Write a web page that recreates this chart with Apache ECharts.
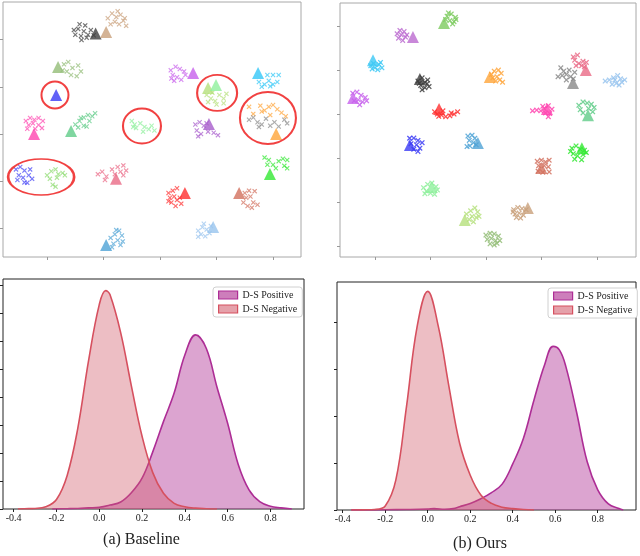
<!DOCTYPE html>
<html><head><meta charset="utf-8">
<script src="https://cdn.jsdelivr.net/npm/echarts@6/dist/echarts.min.js"></script>
<style>html,body{margin:0;padding:0;background:#fff}#c{width:640px;height:556px}</style>
</head><body><div id="c"></div>
<script>
// ---------------- DATA ----------------
// t-SNE tick values (labels hidden in the figure)
const tsneTicksX = [-40, -20, 0, 20, 40];
const baseTicksY = [-40, -20, 0, 20, 40];
const oursTicksY = [-60, -40, -20, 0, 20, 40];

// Baseline t-SNE: "x" marks per class, and the class anchor (triangle)
const baselineMarks = [
  [[-30,42],[-29,44.5],[-28,41.5],[-27,43.5],[-26.5,46],[-25.5,42],[-24.5,44],[-28.5,46.5],[-30.5,44],[-26,40.8],[-23.5,41.8],[-27.8,39.8]],
  [[-18.5,49],[-17,51],[-15.5,49.5],[-14,50.5],[-12.5,49],[-16,47.5],[-14.5,46.5],[-12,45.8],[-17.5,46.5],[-13,48],[-15,52]],
  [[-34,29.5],[-32.5,30.5],[-31,28],[-29,29],[-33,26.5],[-31.5,25],[-29.5,24.5],[-28,26.5],[-34.5,27]],
  [],
  [[-47.5,5.5],[-46,6.8],[-44.5,6],[-43,6.8],[-41.5,5.5],[-46.5,3.8],[-45,4.5],[-43,3.8],[-41.8,2.5],[-47,2.2],[-44.2,2.2]],
  [[-30,4],[-28.5,5.5],[-27,7],[-25.5,8],[-24,7.5],[-23,8.8],[-29,2.8],[-27,3.5],[-25,5.5],[-28,6.8],[-26,3.2]],
  [[-10,5.5],[-9,4],[-8.5,2.5],[-7,4.5],[-5.5,3],[-4,2],[-3,3.5],[-2,1.5],[-6,1],[-9.5,3]],
  [[3.8,27],[5.5,28.5],[7,27.5],[8.5,26.5],[4.5,25],[6,24],[7.5,23],[5,22.5],[9,25],[4,23.5]],
  [[16.5,16.5],[18,15],[19.5,14],[21,16.5],[22.5,15],[23.5,17],[17,13.5],[20,12.5],[22.5,13],[18.5,17.5]],
  [],
  [[38,25],[40,25],[42,25],[35,22],[37,21],[38.5,22.5],[40,21],[41.5,22],[36,20],[39,20.2]],
  [[31.5,11.5],[33,8.5],[35.5,12],[37,10],[38.5,11.5],[40,12.3],[41.5,10.5],[43,9],[44.5,7.5],[39,8],[36,9.5]],
  [[31.5,6],[33,7],[34.5,5],[36,4],[37.5,6.5],[39,3.5],[40.5,5],[42,3.2],[44,6],[45,4.5],[35,3]],
  [[12.5,4],[14,5],[15.5,3.5],[13,1.5],[14.5,0],[17,1],[19,0.5],[20.5,-0.5],[16.5,4.5],[13.5,-1]],
  [[-51,-15],[-49.5,-14],[-48,-15.5],[-46,-15],[-50,-17.5],[-48.5,-18.5],[-46.5,-17.5],[-45.3,-19],[-48,-20.5],[-50.5,-19.5],[-47,-20.7]],
  [[-40,-17.5],[-38.5,-15.8],[-37,-15],[-36,-17],[-34.5,-16.5],[-33.7,-17.5],[-39,-19],[-36.5,-18.5],[-38,-21.5],[-37,-22.3]],
  [[-22,-17],[-20.5,-16],[-19,-18],[-17,-15],[-15,-14],[-13,-13.3],[-12,-15.5],[-14,-16],[-16,-17],[-19.5,-19.5],[-13,-17.5]],
  [[3,-25],[4.5,-24],[6,-23],[3.5,-27],[5,-26.5],[7,-27],[4,-29],[5.5,-30.5],[7.5,-29.5],[6,-28],[3,-28.5]],
  [[30,-25],[31.5,-24],[33.5,-24.2],[30.5,-27],[32,-26.5],[29.5,-29],[31,-30.5],[33,-29],[34.5,-30],[32.5,-31.2]],
  [[37,-10],[38.5,-11],[40,-13],[42,-11.5],[43.5,-10.5],[45,-11],[44,-13.5],[41,-14.5],[38,-13],[45,-14.5]],
  [[13.5,-41],[15,-39.5],[16.5,-40.5],[14.5,-42.5],[16,-43.3],[17.5,-42],[15.5,-38],[18,-39],[13.5,-43.5]],
  [[-17.5,-44],[-16,-42.5],[-14.5,-41],[-13.5,-43],[-15,-45],[-16.5,-46.5],[-14,-47],[-13.2,-45.5],[-17,-48],[-15.5,-40.7]]
];
const baselineAnchors = [
  [-22.8,42.6],[-19.1,43.2],[-36.1,28.4],[-36.8,16.5],[-44.6,0],[-31.5,1.3],null,[11.7,25.8],
  [17,19.5],[19.8,20.7],[34.7,25.8],[41.1,0],null,[17.3,4.2],null,null,[-15.6,-19],[8.8,-25],
  [28,-25],[38.9,-16.9],[18.8,-39.4],[-19.1,-47]
];
// highlighted regions (centres) in the baseline plot
const baselineRings = [[-37.2,16.5],[-6.4,3.4],[20.2,17.4],[38.2,6.8],[-42.1,-18.2]];

// Ours t-SNE
const oursMarks = [
  [[-14,44.5],[-12.5,45.5],[-11,44],[-13,42.5],[-11.5,42],[-10.8,43],[-14.5,43],[-12,41],[-13.5,46]],
  [[-32,36.5],[-31,38],[-29.5,37.5],[-28.5,36],[-31.5,34.5],[-30,33.5],[-29,35],[-30.5,36]],
  [[-41.5,22],[-40,21],[-38.5,22.5],[-37.5,21],[-39,20.2],[-41,20.5],[-38,23.5],[-40.5,23]],
  [[-24.5,15],[-23,16.5],[-22,14.5],[-21,15.5],[-23.5,13],[-22,12],[-20.5,12.5],[-23,11],[-24,14],[-21.2,13.8]],
  [[2,18],[3,19.5],[4.5,20],[5.5,18.5],[4,17],[5,15.5],[6,14.5],[3.5,15],[2.5,16.5]],
  [[31.5,26],[33,26.8],[32,24.5],[33.5,23],[35,24],[36.2,23.5],[34.5,22],[32.5,22],[35.5,21.5]],
  [[27,21],[28,19.5],[26,17],[27.5,17.5],[29,18],[30.5,17],[31.5,16],[29,15.5],[32,19],[30,20]],
  [[43,15],[44.5,15.5],[46,16.5],[47.5,17.5],[48.5,16],[50,15.5],[47,14],[45.5,13.5],[49,14.5],[46.5,15.5],[48,13.2]],
  [[-48,9.5],[-46.5,10],[-45,8.5],[-43.5,7.5],[-46,6.5],[-44.5,5.5],[-45.5,4.2],[-47.5,6],[-43,6]],
  [[-18.5,1],[-17.5,0],[-16,-0.5],[-14.5,-1.2],[-13,-0.8],[-11.5,0],[-10.2,1],[-15.5,1.5],[-17,-1],[-12.5,0.5]],
  [[16.8,1.5],[18.3,1.8],[19.8,1.5],[21,2.5],[22.5,3.8],[23.8,2.2],[21.5,0.5],[22.5,-1.2],[20.5,3.5],[23,0.2]],
  [[33.5,4],[35,5.5],[36.5,5],[38,4.5],[39,3],[34,2],[38.5,1],[35,0.5],[37,2.5]],
  [[-27.5,-11],[-26,-10.9],[-24.5,-12],[-23,-13],[-25,-14],[-23.8,-15.5],[-26,-16],[-24.5,-17],[-27,-13.5]],
  [[-6.5,-10],[-5,-9.6],[-4,-11],[-6,-12],[-4.5,-13],[-5.8,-14.5],[-3.5,-14],[-6.8,-14.8]],
  [[31,-15.5],[32.5,-14.5],[34,-16],[35.5,-16.5],[31.5,-18],[33,-19],[35,-18.5],[32,-20.5],[34.5,-20.8],[36.2,-17.5],[30.5,-17]],
  [[18.5,-21.5],[20,-21],[21.5,-21.8],[22.8,-21],[19,-23.5],[21,-23.5],[22.5,-24],[18.8,-26],[20.5,-26.5],[22.8,-26.3]],
  [[-22.5,-33.5],[-21,-32],[-19.5,-31.4],[-18,-33],[-17.5,-34.5],[-21.5,-35],[-20,-36],[-18.5,-36.5],[-22,-36.2]],
  [[-7,-45.5],[-5.5,-44],[-4,-42.7],[-3,-44.5],[-5,-46.5],[-3.5,-47],[-6,-48],[-4.5,-49],[-2.5,-46.5]],
  [[10,-43.5],[11.5,-42.5],[13,-43],[14.5,-43.5],[10.5,-45.5],[12,-45],[13.5,-46],[11,-47],[12.5,-47.3],[9.8,-44.5]],
  [[0,-55],[1.5,-54.2],[3,-54.5],[4.5,-55.5],[0.5,-57],[2,-56.5],[3.5,-57.5],[5,-57.5],[1.5,-59],[3,-59.5],[4,-58.8]]
];
const oursAnchors = [
  [-15.1,41.4],[-26.3,35],[-40.7,24.5],[-23.8,15.9],[1.4,16.8],[36,20],[31.4,14.1],null,
  [-47.9,7.3],[-16.9,2.3],[22,2.3],[36.8,-0.5],[-27.4,-14.1],[-2.9,-13.2],[34.6,-15.5],[20,-24.5],
  [-19.5,-33.2],[-7.6,-48.2],[15.1,-42.7],null
];

// KDE density curves: [similarity, density]
const kdeTicksX = [-0.4, -0.2, 0.0, 0.2, 0.4, 0.6, 0.8];
const baseTicksDensity = [0, 0.5, 1, 1.5, 2, 2.5, 3, 3.5, 4];
const oursTicksDensity = [0, 1, 2, 3, 4];
const seriesNames = ['D-S Positive', 'D-S Negative'];
const baseNegative = [[-0.38,0],[-0.35,0.005],[-0.30,0.01],[-0.25,0.04],[-0.20,0.17],[-0.15,0.6],[-0.10,1.45],[-0.05,2.65],[0,3.65],[0.03,3.9],[0.05,3.83],[0.10,3.15],[0.15,2.2],[0.20,1.3],[0.25,0.65],[0.30,0.28],[0.35,0.1],[0.40,0.04],[0.45,0.015],[0.50,0.005],[0.55,0]];
const basePositive = [[-0.22,0],[-0.15,0.005],[-0.10,0.01],[-0.05,0.02],[0,0.03],[0.05,0.07],[0.10,0.125],[0.15,0.29],[0.20,0.55],[0.25,1.02],[0.30,1.56],[0.35,2.07],[0.40,2.75],[0.45,3.11],[0.50,2.87],[0.55,2.18],[0.60,1.53],[0.65,0.79],[0.70,0.34],[0.75,0.13],[0.80,0.05],[0.85,0.02],[0.90,0]];
const oursNegative = [[-0.36,0],[-0.30,0.003],[-0.25,0.01],[-0.20,0.085],[-0.15,0.64],[-0.10,2.2],[-0.05,3.9],[0,4.65],[0.05,3.9],[0.10,2.62],[0.15,1.42],[0.20,0.74],[0.25,0.32],[0.30,0.14],[0.35,0.06],[0.40,0.03],[0.45,0.01],[0.50,0]];
const oursPositive = [[-0.36,0],[-0.20,0.005],[-0.10,0.01],[0,0.02],[0.03,0.03],[0.08,0.015],[0.12,0.03],[0.15,0.07],[0.20,0.14],[0.25,0.24],[0.30,0.37],[0.35,0.55],[0.40,0.98],[0.45,1.52],[0.50,2.34],[0.55,3.09],[0.59,3.48],[0.62,3.4],[0.65,3.05],[0.70,2.09],[0.75,1.03],[0.80,0.43],[0.85,0.13],[0.90,0.03],[0.92,0]];
const captions = ['(a) Baseline', '(b) Ours'];

// ---------------- STYLE ----------------
const baselinePalette = ['#3d3d3d','#c9a07a','#93bd77','#3b3bf5','#ff45b0','#60cc88','#8ff09c','#c760ec','#b5e07c','#8ff09c','#33c7f7','#ffa53a','#8a8a8a','#a85ccc','#4646f5','#8edb70','#ea6a86','#ff3030','#d2705e','#33e833','#98c4ee','#4fa3d6'];
const oursPalette = ['#7dcb5f','#bb6ad0','#3cc8f5','#3d3d3d','#ffa53a','#ea6a86','#8a8a8a','#98c4ee','#c760ec','#ff3030','#ff45b0','#60cc88','#3b3bf5','#4fa3d6','#33e833','#d2705e','#8ff09c','#b5e07c','#c9a07a','#93bd77'];
const ringSizes = [[27,27],[38,35],[40,36],[56,52],[66,36]];
const X_PATH = 'path://M0,1.6L1.6,0L5,3.4L8.4,0L10,1.6L6.6,5L10,8.4L8.4,10L5,6.6L1.6,10L0,8.4L3.4,5Z';
const POS_LINE = '#ad2d95', POS_FILL = 'rgba(176,50,148,0.63)';
const NEG_LINE = '#d6505f', NEG_FILL = 'rgba(208,88,104,0.56)';
const SERIF = 'Liberation Serif';

function clusterSeries(marks, anchors, palette, idx, size, alpha) {
  const out = [];
  marks.forEach((pts, i) => {
    if (pts.length) out.push({
      type: 'scatter', xAxisIndex: idx, yAxisIndex: idx, data: pts, symbol: X_PATH,
      symbolSize: size, itemStyle: { color: palette[i], opacity: alpha }, z: 2, silent: true
    });
    if (anchors[i]) out.push({
      type: 'scatter', xAxisIndex: idx, yAxisIndex: idx, data: [anchors[i]], symbol: 'triangle',
      symbolSize: 12, itemStyle: { color: palette[i] }, z: 3, silent: true
    });
  });
  return out;
}

function tsneAxes(idx, min, max, ticks) {
  return {
    gridIndex: idx, type: 'value', min, max, axisLine: { show: false, onZero: false }, splitLine: { show: false },
    axisTick: { show: true, customValues: ticks, length: 3, lineStyle: { color: '#999' } },
    axisLabel: { show: false }
  };
}
function kdeXAxis(idx, min, max) {
  return {
    gridIndex: idx, type: 'value', min, max, axisLine: { show: false, onZero: false }, splitLine: { show: false },
    axisTick: { show: true, customValues: kdeTicksX, length: 3, lineStyle: { color: '#222' } },
    axisLabel: { show: true, customValues: kdeTicksX, margin: 4, fontFamily: SERIF, fontSize: 10, color: '#222',
      formatter: v => v.toFixed(1) }
  };
}
function kdeYAxis(idx, max, ticks) {
  return {
    gridIndex: idx, type: 'value', min: 0, max, axisLine: { show: false, onZero: false }, splitLine: { show: false },
    axisTick: { show: true, customValues: ticks, length: 3, lineStyle: { color: '#222' } },
    axisLabel: { show: false }
  };
}
function kdeSeries(idx, pos, neg) {
  return [
    { name: seriesNames[0], type: 'line', xAxisIndex: idx, yAxisIndex: idx, data: pos, smooth: 0.4,
      symbol: 'none', lineStyle: { color: POS_LINE, width: 1.6 }, itemStyle: { color: POS_LINE },
      areaStyle: { color: POS_FILL }, z: 2, silent: true },
    { name: seriesNames[1], type: 'line', xAxisIndex: idx, yAxisIndex: idx, data: neg, smooth: 0.4,
      symbol: 'none', lineStyle: { color: NEG_LINE, width: 1.6 }, itemStyle: { color: NEG_LINE },
      areaStyle: { color: NEG_FILL }, z: 3, silent: true }
  ];
}
function legend(left, top) {
  return {
    left, top, orient: 'vertical', itemWidth: 19, itemHeight: 8, itemGap: 4, padding: [3, 5],
    borderColor: '#d0d0d0', borderWidth: 1, borderRadius: 3, backgroundColor: '#fff', selectedMode: false,
    textStyle: { fontFamily: SERIF, fontSize: 10, color: '#222' },
    data: [
      { name: seriesNames[0], icon: 'rect', itemStyle: { color: POS_FILL, borderColor: POS_LINE, borderWidth: 1.2 } },
      { name: seriesNames[1], icon: 'rect', itemStyle: { color: NEG_FILL, borderColor: NEG_LINE, borderWidth: 1.2 } }
    ]
  };
}

const chart = echarts.init(document.getElementById('c'), null, { renderer: 'canvas' });
const series = [].concat(
  clusterSeries(baselineMarks, baselineAnchors, baselinePalette, 0, 5, 0.72),
  [{
    type: 'scatter', xAxisIndex: 0, yAxisIndex: 0, data: baselineRings, symbol: 'circle',
    symbolSize: (v, p) => ringSizes[p.dataIndex],
    itemStyle: { color: 'rgba(0,0,0,0)', borderColor: '#ee1111', borderWidth: 2 }, z: 5, silent: true
  }],
  clusterSeries(oursMarks, oursAnchors, oursPalette, 1, 5.5, 0.85),
  kdeSeries(2, basePositive, baseNegative),
  kdeSeries(3, oursPositive, oursNegative)
);

chart.setOption({
  animation: false,
  backgroundColor: '#fff',
  grid: [
    { left: 3, top: 2, width: 298, height: 255, show: true, borderColor: '#a8a8a8', borderWidth: 1 },
    { left: 340, top: 3, width: 296, height: 254, show: true, borderColor: '#a8a8a8', borderWidth: 1 },
    { left: 3, top: 279, width: 301, height: 230, show: true, borderColor: '#222', borderWidth: 1 },
    { left: 337, top: 282, width: 299, height: 228, show: true, borderColor: '#222', borderWidth: 1 }
  ],
  xAxis: [
    tsneAxes(0, -55.6, 49.9, tsneTicksX),
    tsneAxes(1, -52.6, 54.1, tsneTicksX),
    kdeXAxis(2, -0.45, 0.957),
    kdeXAxis(3, -0.427, 0.98)
  ],
  yAxis: [
    tsneAxes(0, -52.1, 55.9, baseTicksY),
    tsneAxes(1, -65, 50.5, oursTicksY),
    kdeYAxis(2, 4.107, baseTicksDensity),
    kdeYAxis(3, 4.85, oursTicksDensity)
  ],
  legend: [legend(213, 287), legend(548, 288)],
  graphic: [
    { type: 'text', x: 141.5, y: 540, style: { text: captions[0], fontFamily: SERIF, fontSize: 16, fill: '#222', textAlign: 'center', textVerticalAlign: 'middle' } },
    { type: 'text', x: 480, y: 544, style: { text: captions[1], fontFamily: SERIF, fontSize: 16, fill: '#222', textAlign: 'center', textVerticalAlign: 'middle' } }
  ],
  series
});
</script>
</body></html>
